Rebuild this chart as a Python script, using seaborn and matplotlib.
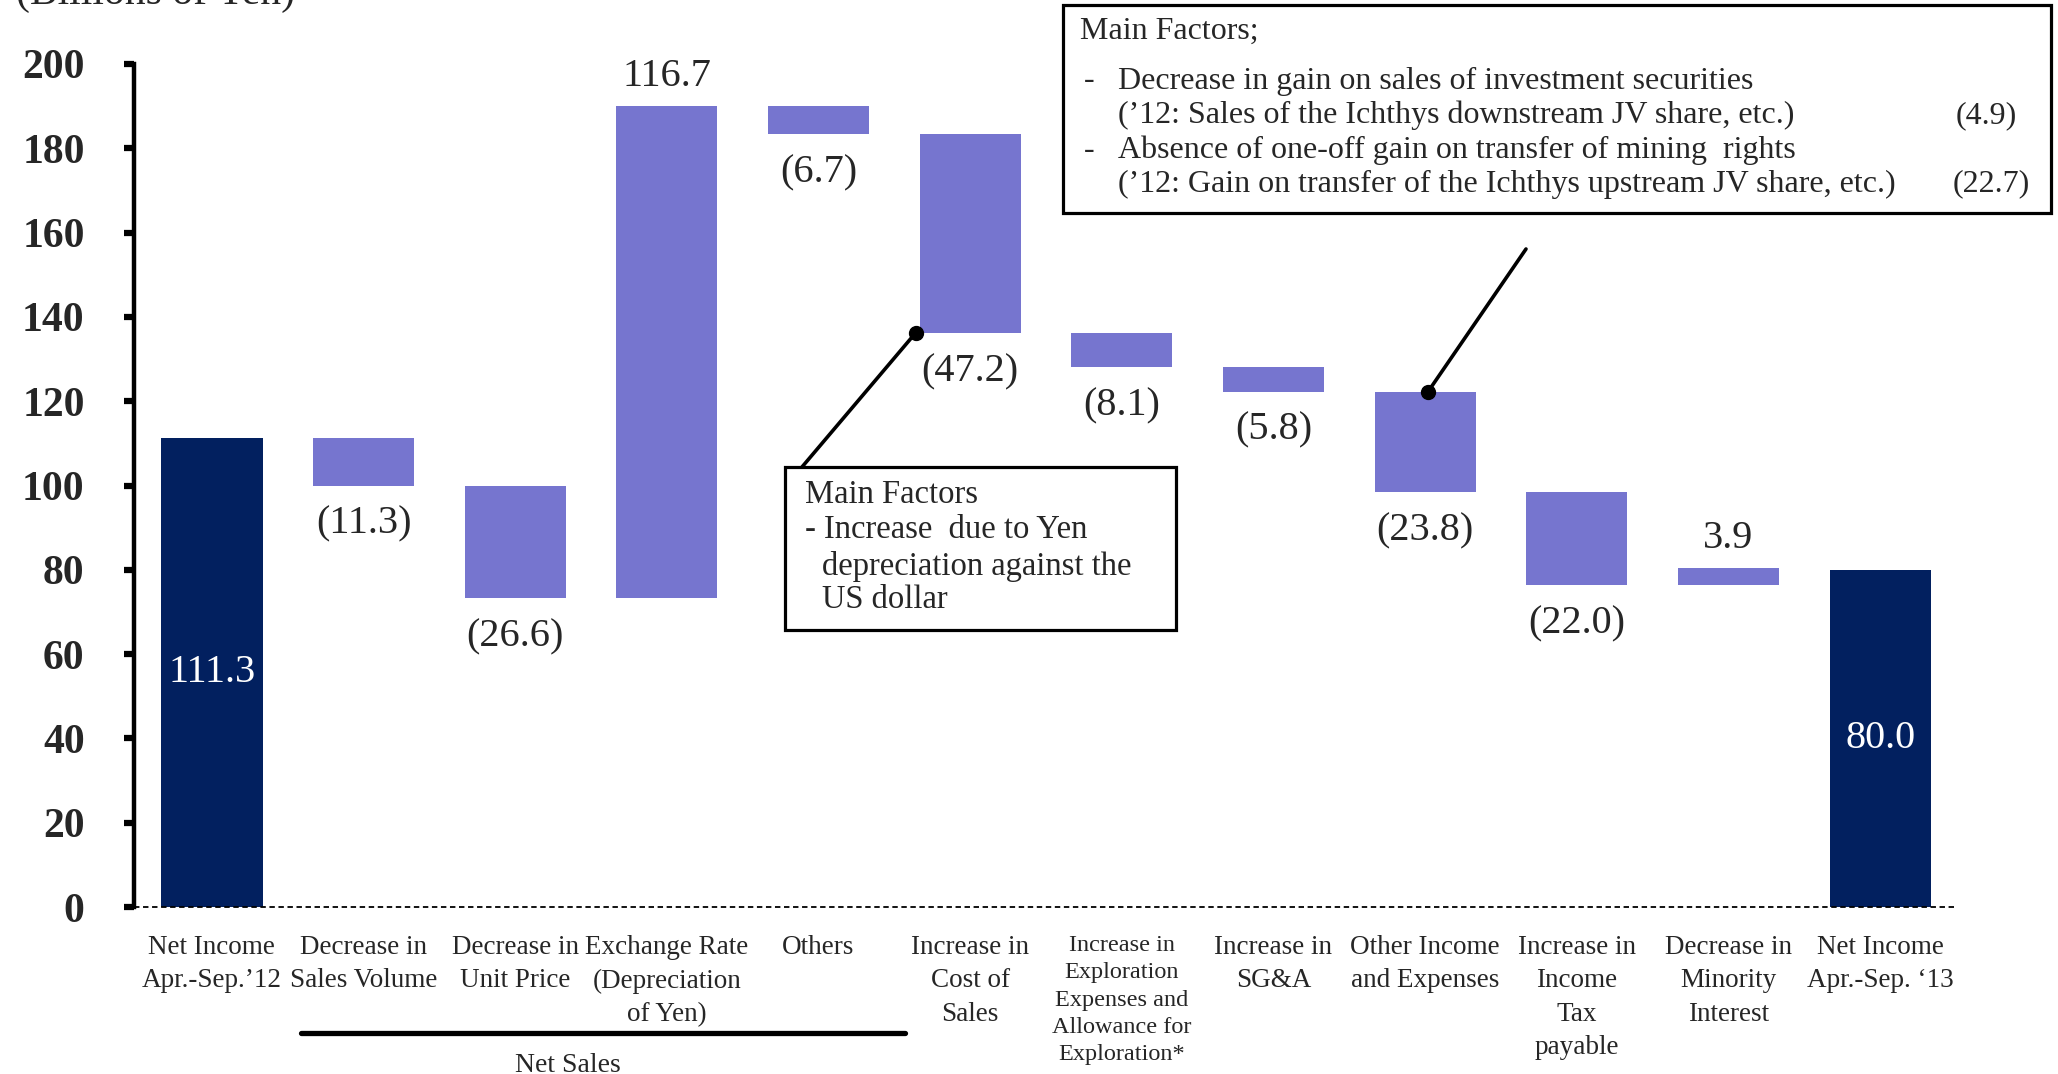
import numpy as np
import pandas as pd
import seaborn as sns
import matplotlib.pyplot as plt
from matplotlib.patches import Rectangle
from matplotlib.transforms import blended_transform_factory

# datos del gráfico (miles de millones de yenes)
categories = ["Net Income\nApr.-Sep.’12", "Decrease in\nSales Volume", "Decrease in\nUnit Price",
              "Exchange Rate\n(Depreciation\nof Yen)", "Others", "Increase in\nCost of\nSales",
              "Increase in\nExploration\nExpenses and\nAllowance for\nExploration*",
              "Increase in\nSG&A", "Other Income\nand Expenses", "Increase in\nIncome\nTax\npayable",
              "Decrease in\nMinority\nInterest", "Net Income\nApr.-Sep. ‘13"]
changes = [111.3, -11.3, -26.6, 116.7, -6.7, -47.2, -8.1, -5.8, -23.8, -22.0, 3.9, 80.0]
is_total = [True, False, False, False, False, False, False, False, False, False, False, True]
value_labels = ["111.3", "(11.3)", "(26.6)", "116.7", "(6.7)", "(47.2)", "(8.1)", "(5.8)",
                "(23.8)", "(22.0)", "3.9", "80.0"]
yticks = list(range(0, 201, 20))

NAVY = "#02205F"
LIGHT = "#7675CF"

# cascada: base y altura de cada barra
bottoms, heights = [], []
running = 0.0
for chg, tot in zip(changes, is_total):
    if tot:
        bottoms.append(0.0)
        heights.append(chg)
        running = chg
    else:
        bottoms.append(min(running, running + chg))
        heights.append(abs(chg))
        running += chg
df = pd.DataFrame({"item": categories, "height": heights, "bottom": bottoms})

W, H = 2058, 1074
def px(x, y):
    return x / W, 1 - y / H

sns.set_style("white")
plt.rcParams["font.family"] = ["Liberation Serif", "DejaVu Serif"]

fig = plt.figure(figsize=(20.58, 10.74), dpi=100)
ax = fig.add_axes([0.0651, 1 - 907 / H, 0.8853, (907 - 64) / H])

sns.barplot(data=df, x="item", y="height", bottom=df["bottom"].values, color=LIGHT,
            saturation=1, width=0.667, errorbar=None, linewidth=0, ax=ax)
for p, tot in zip(ax.patches, is_total):
    if tot:
        p.set_facecolor(NAVY)

# etiquetas de valor
for i, (lab, b, h, tot, chg) in enumerate(zip(value_labels, bottoms, heights, is_total, changes)):
    if tot:
        ax.text(i, b + h / 2, lab, ha="center", va="center", color="white", fontsize=29)
    elif chg >= 0:
        ax.annotate(lab, (i, b + h), xytext=(0, 21), textcoords="offset points",
                    ha="center", va="center", fontsize=29)
    else:
        ax.annotate(lab, (i, b), xytext=(0, -28), textcoords="offset points",
                    ha="center", va="center", fontsize=29)

ax.set_xlim(-0.514, 11.5)
ax.set_ylim(0, 200)
ax.set_yticks(yticks)
ax.set_xlabel("")
ax.set_ylabel("")
for s in ["top", "right", "bottom"]:
    ax.spines[s].set_visible(False)
ax.spines["left"].set_linewidth(3.2)
ax.spines["left"].set_color("black")
ax.axhline(0, color="black", ls=(0, (3, 2)), lw=1.3, clip_on=False)
ax.tick_params(axis="y", left=True, direction="out", length=7.5, width=4.5, color="black",
               pad=28, labelsize=30)
for t in ax.get_yticklabels():
    t.set_fontweight("bold")
ax.tick_params(axis="x", bottom=False, length=0, pad=20, labelsize=19.5)
for i, t in enumerate(ax.get_xticklabels()):
    t.set_linespacing(1.45)
    if i == 6:
        t.set_fontsize(17.5)
        t.set_linespacing(1.4)

fig.text(*px(16, 4), "(Billions of Yen)", fontsize=30, va="baseline", ha="left")

# Net Sales
bt = blended_transform_factory(ax.transData, fig.transFigure)
ax.plot([0.59, 4.57], [1 - 1033 / H] * 2, color="black", lw=3.8, transform=bt, clip_on=False)
ax.text(2.35, 1 - 1065 / H, "Net Sales", transform=bt, ha="center", va="center", fontsize=20)

# recuadro 1
fig.add_artist(Rectangle(px(785, 630), (1176 - 785) / W, (630 - 467) / H, transform=fig.transFigure,
                         fill=False, ec="black", lw=2.3))
fs1 = 23.5
fig.text(*px(805, 495), "Main Factors", fontsize=fs1, va="center")
fig.text(*px(805, 530), "- Increase  due to Yen", fontsize=fs1, va="center")
fig.text(*px(822, 566), "depreciation against the", fontsize=fs1, va="center")
fig.text(*px(822, 600), "US dollar", fontsize=fs1, va="center")
ax.annotate("", xy=(4.64, 136.2), xycoords="data", xytext=px(802, 467), textcoords="figure fraction",
            arrowprops=dict(arrowstyle="-", lw=2.6, color="black", shrinkA=0, shrinkB=0))
ax.plot([4.64], [136.2], "o", color="black", ms=10, clip_on=False)

# recuadro 2
fig.add_artist(Rectangle(px(1063, 213), (2051 - 1063) / W, (213 - 5) / H, transform=fig.transFigure,
                         fill=False, ec="black", lw=2.3))
fs2 = 23
fig.text(*px(1080, 31.5), "Main Factors;", fontsize=fs2, va="center")
fig.text(*px(1084, 81), "-", fontsize=fs2, va="center")
fig.text(*px(1118, 81), "Decrease in gain on sales of investment securities", fontsize=fs2, va="center")
fig.text(*px(1118, 115.5), "(’12: Sales of the Ichthys downstream JV share, etc.)", fontsize=fs2, va="center")
fig.text(*px(2017, 115.5), "(4.9)", fontsize=fs2, va="center", ha="right")
fig.text(*px(1084, 150), "-", fontsize=fs2, va="center")
fig.text(*px(1118, 150), "Absence of one-off gain on transfer of mining  rights", fontsize=fs2, va="center")
fig.text(*px(1118, 184), "(’12: Gain on transfer of the Ichthys upstream JV share, etc.)", fontsize=fs2, va="center")
fig.text(*px(2030, 184), "(22.7)", fontsize=fs2, va="center", ha="right")
ax.annotate("", xy=(8.02, 122.3), xycoords="data", xytext=px(1526, 249), textcoords="figure fraction",
            arrowprops=dict(arrowstyle="-", lw=2.6, color="black", shrinkA=0, shrinkB=0))
ax.plot([8.02], [122.3], "o", color="black", ms=10, clip_on=False)

plt.savefig("out.png", dpi=100)
